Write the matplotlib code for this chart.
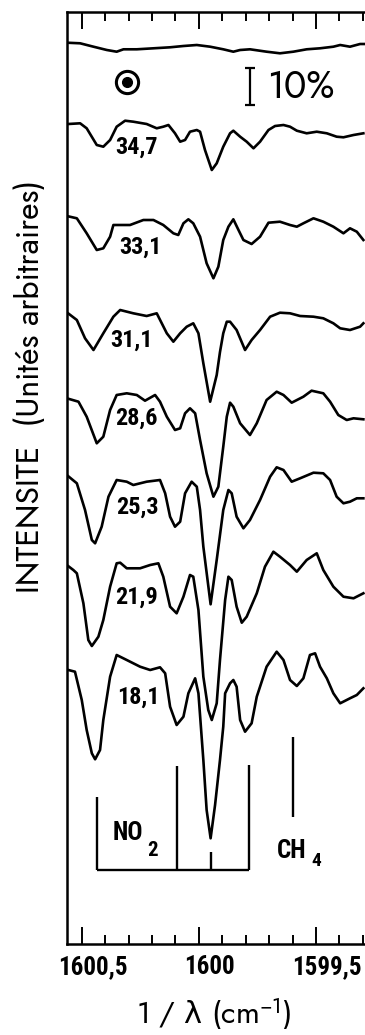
import matplotlib.pyplot as plt
import numpy as np
from matplotlib.ticker import MultipleLocator
import matplotlib.transforms as mtransforms

plt.rcParams['mathtext.fontset'] = 'custom'
plt.rcParams['mathtext.rm'] = 'Jost'
plt.rcParams['mathtext.it'] = 'Jost'
plt.rcParams['mathtext.bf'] = 'Jost'
plt.rcParams['mathtext.sf'] = 'DejaVu Sans'

narrow = ['Roboto Condensed', 'DejaVu Sans']
geo = ['Jost', 'DejaVu Sans']

# spectra: wavenumber (cm-1) and chart position (arb. units, grows downward)
ref_wn = [1600.564, 1600.507, 1600.450, 1600.393, 1600.351, 1600.322, 1600.265, 1600.194, 1600.123,
          1600.066, 1600.009, 1599.952, 1599.896, 1599.853, 1599.824, 1599.782, 1599.711, 1599.654,
          1599.597, 1599.540, 1599.483, 1599.426, 1599.397, 1599.355, 1599.312, 1599.291]
ref_y = [42.7, 43.3, 46.7, 50, 51.7, 49.3, 49.3, 48.3, 47.3, 46, 45, 46.7, 49.3, 51.7, 50, 49.3,
         51.7, 53.3, 51.7, 49.3, 48.3, 46.7, 45, 46.7, 44, 44]

wn_347 = [1600.557, 1600.507, 1600.479, 1600.436, 1600.408, 1600.379, 1600.351, 1600.315, 1600.280,
          1600.223, 1600.180, 1600.152, 1600.130, 1600.102, 1600.080, 1600.059, 1600.038, 1600.009,
          1599.995, 1599.974, 1599.945, 1599.924, 1599.896, 1599.867, 1599.853, 1599.824, 1599.796,
          1599.767, 1599.739, 1599.703, 1599.675, 1599.639, 1599.611, 1599.582, 1599.540, 1599.497,
          1599.454, 1599.412, 1599.383, 1599.340, 1599.298]
y_347 = [124, 123.3, 128.3, 145, 146.7, 140, 126.7, 120.7, 121.7, 124, 128.3, 126.7, 125, 133.3,
         141.7, 140, 131.7, 130, 131.7, 150, 170, 163.3, 146.7, 133.3, 130.7, 136.7, 141.7, 148.3,
         141.7, 130, 126, 125, 126.7, 130.7, 133.3, 131.7, 133.3, 136.7, 137.3, 135, 133.3]

wn_331 = [1600.564, 1600.521, 1600.479, 1600.436, 1600.408, 1600.379, 1600.365, 1600.336, 1600.294,
          1600.237, 1600.194, 1600.152, 1600.109, 1600.088, 1600.066, 1600.045, 1600.024, 1599.995,
          1599.967, 1599.938, 1599.917, 1599.896, 1599.874, 1599.853, 1599.831, 1599.810, 1599.775,
          1599.739, 1599.703, 1599.654, 1599.611, 1599.582, 1599.554, 1599.511, 1599.469, 1599.426,
          1599.383, 1599.355, 1599.326, 1599.298]
y_331 = [216, 218.3, 233.3, 250, 248.3, 236.7, 225, 225, 225, 220, 220, 225, 233.3, 235, 223.3,
         219.3, 223.3, 236.7, 263.3, 278.3, 266.7, 240, 226.7, 219.3, 230, 240, 244, 236.7, 222.7,
         221.7, 225, 226.7, 223.3, 218.3, 221.7, 226.7, 233.3, 228.3, 231.7, 240]

wn_311 = [1600.564, 1600.521, 1600.486, 1600.450, 1600.408, 1600.365, 1600.336, 1600.280, 1600.223,
          1600.180, 1600.137, 1600.109, 1600.080, 1600.052, 1600.024, 1600.002, 1599.981, 1599.952,
          1599.924, 1599.910, 1599.896, 1599.881, 1599.867, 1599.839, 1599.803, 1599.775, 1599.739,
          1599.696, 1599.654, 1599.611, 1599.568, 1599.511, 1599.469, 1599.426, 1599.397, 1599.355,
          1599.312, 1599.298]
y_311 = [312.3, 320, 338.3, 350, 333.3, 316.7, 310, 313.3, 316, 313.3, 333.3, 341.7, 333.3, 326.7,
         323.3, 333.3, 363.3, 401.7, 375, 352, 333.3, 321.7, 321.7, 330, 350, 340, 330, 316.7, 312.7,
         313.3, 316, 316.7, 318.3, 323.3, 328.3, 330, 326.7, 323.3]

wn_286 = [1600.564, 1600.514, 1600.479, 1600.436, 1600.408, 1600.379, 1600.351, 1600.308, 1600.265,
          1600.230, 1600.187, 1600.166, 1600.137, 1600.102, 1600.080, 1600.059, 1600.038, 1600.016,
          1599.995, 1599.967, 1599.938, 1599.917, 1599.896, 1599.881, 1599.867, 1599.853, 1599.824,
          1599.782, 1599.753, 1599.711, 1599.668, 1599.639, 1599.604, 1599.554, 1599.519, 1599.469,
          1599.440, 1599.405, 1599.369, 1599.340, 1599.298]
y_286 = [398.3, 401.7, 416.7, 443.3, 436.7, 410, 395, 393.3, 395, 400.7, 395, 401.7, 416.7, 430,
         428.3, 413.3, 408.3, 413.3, 440, 473.3, 496.7, 486.7, 446.7, 416.7, 402.7, 406.7, 423.3,
         435, 423.3, 400, 391.7, 395, 402.7, 396.7, 390.7, 393.3, 401.7, 415, 420, 418.3, 419.3]

wn_253 = [1600.564, 1600.521, 1600.486, 1600.457, 1600.443, 1600.415, 1600.386, 1600.351, 1600.308,
          1600.280, 1600.223, 1600.166, 1600.144, 1600.123, 1600.102, 1600.080, 1600.059, 1600.031,
          1600.009, 1599.995, 1599.981, 1599.950, 1599.924, 1599.896, 1599.874, 1599.860, 1599.839,
          1599.810, 1599.782, 1599.739, 1599.696, 1599.668, 1599.639, 1599.604, 1599.568, 1599.511,
          1599.469, 1599.440, 1599.412, 1599.383, 1599.355, 1599.326, 1599.298]
y_253 = [475, 483.3, 510, 540, 543.3, 526.7, 496.7, 480, 481.7, 485, 481.7, 480, 493.3, 516.7,
         526.7, 521.7, 493.3, 481.7, 486.7, 510, 546.7, 604.3, 560, 510, 490, 493.3, 516.7, 528.3,
         520, 500, 476.7, 467.3, 470, 481.7, 478.3, 472.7, 473.3, 480, 496.7, 503.3, 501.7, 498.3,
         498.3]

wn_219 = [1600.564, 1600.536, 1600.521, 1600.493, 1600.472, 1600.457, 1600.429, 1600.408, 1600.379,
          1600.351, 1600.336, 1600.308, 1600.251, 1600.208, 1600.173, 1600.152, 1600.123, 1600.095,
          1600.066, 1600.038, 1600.024, 1600.002, 1599.981, 1599.960, 1599.945, 1599.924, 1599.910,
          1599.888, 1599.874, 1599.860, 1599.839, 1599.817, 1599.796, 1599.753, 1599.718, 1599.682,
          1599.654, 1599.611, 1599.582, 1599.540, 1599.497, 1599.469, 1599.426, 1599.383, 1599.340,
          1599.298]
y_219 = [565, 570, 573.3, 603.3, 640, 646, 636.7, 620, 586.7, 563.3, 562.7, 568.3, 568.3, 565,
         563.3, 576.7, 606.7, 613.3, 596.7, 575, 576.7, 610, 676.7, 710, 720, 703.3, 660, 600,
         576.7, 580, 606.7, 622.7, 616.7, 593.3, 566.7, 551.7, 556.7, 565, 571.7, 560, 553.3, 570,
         586.7, 596.7, 598.3, 593.3]

wn_181 = [1600.557, 1600.529, 1600.500, 1600.479, 1600.457, 1600.443, 1600.422, 1600.408, 1600.379,
          1600.351, 1600.308, 1600.251, 1600.208, 1600.166, 1600.144, 1600.123, 1600.095, 1600.066,
          1600.045, 1600.016, 1600.002, 1599.981, 1599.967, 1599.950, 1599.931, 1599.910, 1599.896,
          1599.888, 1599.867, 1599.853, 1599.839, 1599.824, 1599.803, 1599.775, 1599.753, 1599.711,
          1599.668, 1599.639, 1599.611, 1599.582, 1599.554, 1599.526, 1599.504, 1599.483, 1599.454,
          1599.426, 1599.397, 1599.355, 1599.326, 1599.298]
y_181 = [670, 671.7, 700, 730, 753.3, 759.3, 750, 720, 676.7, 655, 660, 666.7, 670, 667.3, 673.3,
         706.7, 725, 716.7, 693.3, 678.3, 693.3, 760, 810, 838.3, 805, 760, 726.7, 693.3, 683.3,
         680, 686.7, 720, 731.7, 723.3, 696.7, 666.7, 651.7, 660, 680, 686, 678.3, 655, 653.3,
         666.7, 678.3, 693.3, 703.3, 698.3, 695, 688.3]

# trace labels and where they sit
trace_labels = ['34,7', '33,1', '31,1', '28,6', '25,3', '21,9', '18,1']
label_wn = [1600.268, 1600.251, 1600.287, 1600.268, 1600.262, 1600.266, 1600.258]
label_y = [147, 247, 340, 418, 507, 597, 697]

# line positions
no2_wn = [1600.436, 1600.092, 1599.949, 1599.786]
no2_top = [796.7, 766, 851.7, 765]
no2_base = 870
ch4_wn = 1599.597
ch4_span = (736.7, 816.7)

fig = plt.figure(figsize=(3.65, 10.35), dpi=100)
ax = fig.add_axes([67 / 365, 91 / 1035, 298 / 365, 932.3 / 1035])

lw = 1.9
traces = [(ref_wn, ref_y), (wn_347, y_347), (wn_331, y_331), (wn_311, y_311),
          (wn_286, y_286), (wn_253, y_253), (wn_219, y_219), (wn_181, y_181)]
for wn, y in traces:
    ax.plot(wn, y, color='black', lw=lw, solid_joinstyle='round')

for t, x, y in zip(trace_labels, label_wn, label_y):
    ax.text(x, y, t, family=narrow, weight='bold', fontsize=17.5, ha='center', va='center')

# NO2 stick diagram
ax.vlines(no2_wn, no2_top, no2_base, color='black', lw=1.7)
ax.hlines(no2_base, no2_wn[0], no2_wn[-1], color='black', lw=1.7)
ax.vlines(ch4_wn, ch4_span[0], ch4_span[1], color='black', lw=1.7)

ax.text(1600.302, 833, 'NO', family=narrow, weight='bold', fontsize=18, ha='center', va='center')
ax.text(1600.196, 850, '2', family=narrow, weight='bold', fontsize=15, ha='center', va='center')
ax.text(1599.605, 851, 'CH', family=narrow, weight='bold', fontsize=18, ha='center', va='center')
ax.text(1599.500, 861, '4', family=narrow, weight='bold', fontsize=14, ha='center', va='center')

# sun symbol and 10 % scale bar
ax.plot(1600.308, 81.7, 'o', ms=16, mfc='none', mec='black', mew=2.2)
ax.plot(1600.308, 81.7, 'o', ms=7, color='black')
ax.errorbar(1599.781, 86.5, yerr=18.5, color='black', lw=1.6, capsize=3.5, capthick=1.6)
ax.text(1599.709, 87, '10%', family=geo, fontsize=27, ha='left', va='center')

ax.set_xlim(1600.563, 1599.291)
ax.set_ylim(944, 11.7)

ax.spines['right'].set_visible(False)
for s in ['left', 'top', 'bottom']:
    ax.spines[s].set_linewidth(1.8)

ax.set_yticks([])
ax.xaxis.set_minor_locator(MultipleLocator(0.1))
ax.tick_params(axis='x', which='both', direction='in', top=True, width=1.4)
ax.tick_params(axis='x', which='major', length=12, pad=8, labelsize=18)
ax.tick_params(axis='x', which='minor', length=6.5)
ax.set_xticks([1600.5, 1600, 1599.5])
ax.set_xticklabels(['1600,5', '1600', '1599,5'], family=narrow, weight='bold')
shift = mtransforms.ScaledTranslation(11 / 100, 0, fig.dpi_scale_trans)
for lab in ax.get_xticklabels():
    lab.set_transform(lab.get_transform() + shift)

ax.set_xlabel('1 / $\\mathsf{\\lambda}$ (cm$^{-1}$)', family=geo, fontsize=22)
ax.xaxis.label.set_va('center')
ax.xaxis.set_label_coords(0.493, -0.076)
ax.set_ylabel('INTENSITE  (Unités arbitraires)', family=geo, fontsize=23)
ax.yaxis.label.set_va('center')
ax.yaxis.set_label_coords(-0.124, 0.598)

fig.savefig('out.png', dpi=100)
